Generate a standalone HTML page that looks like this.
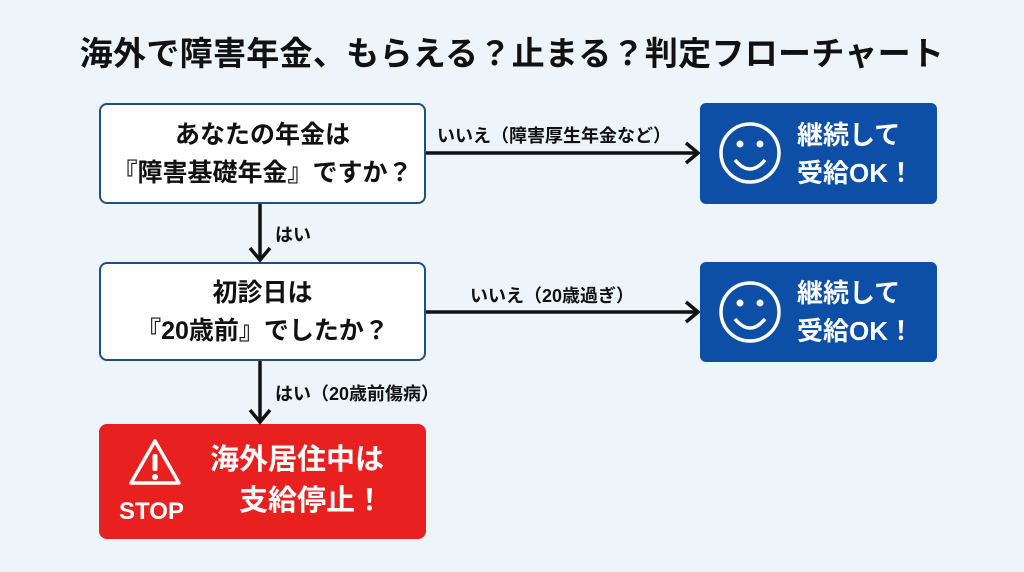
<!DOCTYPE html>
<html><head><meta charset="utf-8"><style>
body{margin:0;width:1024px;height:572px;background:#eef5fa;font-family:"Liberation Sans","Noto Sans CJK JP",sans-serif;position:relative;overflow:hidden;font-weight:bold;color:#111}
.a{position:absolute}
.title{left:0;width:1024px;top:27px;text-align:center;font-size:33px;letter-spacing:0.3px}
.w{background:#fff;border:2px solid #1f4f84;border-radius:8px;box-sizing:border-box;display:flex;align-items:center;justify-content:center;text-align:center;font-size:25px;line-height:38px}
.b{background:#0d4ea6;border-radius:6px;color:#fff}
.bt{color:#fff;font-size:26px;line-height:38px}
.r{background:#e8201f;border-radius:8px;color:#fff}
.lbl{font-size:18px}
</style></head><body>
<div class="a title">海外で障害年金、もらえる？止まる？判定フローチャート</div>

<div class="a w" style="left:99px;top:103px;width:327px;height:101px">あなたの年金は<br>『障害基礎年金』ですか？</div>
<div class="a w" style="left:99px;top:262px;width:327px;height:99px">初診日は<br>『20歳前』でしたか？</div>

<div class="a b" style="left:700px;top:103px;width:237px;height:101px"></div>
<div class="a b" style="left:700px;top:262px;width:237px;height:100px"></div>
<div class="a bt" style="left:797px;top:116px">継続して<br>受給OK！</div>
<div class="a bt" style="left:797px;top:274px">継続して<br>受給OK！</div>

<div class="a r" style="left:99px;top:424px;width:327px;height:115px"></div>
<div class="a" style="left:210px;top:440px;color:#fff;font-size:29px;line-height:41px">海外居住中は<br>　支給停止！</div>
<div class="a" style="left:119px;top:498px;color:#fff;font-size:24px">STOP</div>

<div class="a lbl" style="left:437px;top:122px">いいえ（障害厚生年金など）</div>
<div class="a lbl" style="left:470px;top:282px">いいえ（20歳過ぎ）</div>
<div class="a lbl" style="left:275px;top:221px">はい</div>
<div class="a lbl" style="left:275px;top:380px">はい（20歳前傷病）</div>

<svg class="a" style="left:0;top:0" width="1024" height="572">
<g stroke="#111" stroke-width="3.5" fill="none">
<line x1="426" y1="153" x2="697" y2="153"/><polyline points="686,143 698,153 686,163"/>
<line x1="426" y1="312" x2="697" y2="312"/><polyline points="686,302 698,312 686,322"/>
<line x1="260" y1="204" x2="260" y2="259"/><polyline points="250,248 260,260 270,248"/>
<line x1="260" y1="361" x2="260" y2="421"/><polyline points="250,410 260,422 270,410"/>
</g>
<g stroke="#fff" stroke-width="3.5" fill="none">
<circle cx="750" cy="153" r="29"/><path d="M735 160 Q750 178 765 160"/>
<circle cx="750" cy="312" r="29"/><path d="M735 319 Q750 337 765 319"/>
<path d="M155 441 L179 483 L131 483 Z" stroke-linejoin="round"/>
</g>
<g fill="#fff">
<circle cx="740" cy="144" r="3.5"/><circle cx="760" cy="144" r="3.5"/>
<circle cx="740" cy="303" r="3.5"/><circle cx="760" cy="303" r="3.5"/>
<rect x="152.5" y="454" width="5" height="17" rx="2"/><circle cx="155" cy="477" r="3"/>
</g>
</svg>
</body></html>
